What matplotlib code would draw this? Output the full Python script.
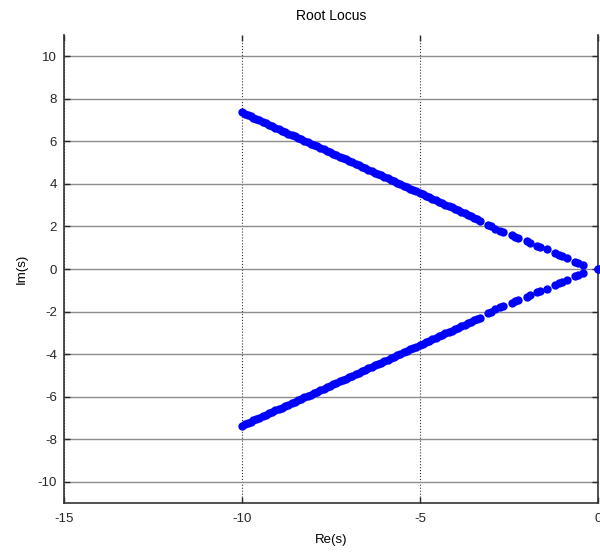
import matplotlib
matplotlib.use("Agg")
import matplotlib.pyplot as plt

# closed-loop pole positions, upper branch (the lower branch is its conjugate)
re_upper = [-10.00, -9.92, -9.84, -9.76, -9.68, -9.60, -9.51, -9.42, -9.33, -9.24,
            -9.15, -9.06, -8.97, -8.88, -8.79, -8.70, -8.61, -8.52, -8.43, -8.34,
            -8.25, -8.16, -8.07, -7.98, -7.89, -7.80, -7.71, -7.62, -7.53, -7.44,
            -7.35, -7.26, -7.17, -7.08, -6.99, -6.90, -6.81, -6.72, -6.63, -6.54,
            -6.45, -6.36, -6.27, -6.18, -6.09, -6.00, -5.91, -5.82, -5.73, -5.64,
            -5.55, -5.46, -5.37, -5.28, -5.19, -5.10, -5.01, -4.92, -4.83, -4.74,
            -4.65, -4.56, -4.47, -4.38, -4.29, -4.20, -4.11, -4.02, -3.93, -3.84,
            -3.75, -3.66, -3.57, -3.48, -3.39, -3.31,
            -3.08, -3.01, -2.89, -2.75, -2.66, -2.42, -2.33, -2.24, -2.00, -1.91,
            -1.72, -1.63, -1.44, -1.21, -1.11, -1.02, -0.88, -0.65, -0.55, -0.41,
            0.00]
im_upper = [7.36, 7.30, 7.24, 7.18, 7.12, 7.06, 6.99, 6.92, 6.85, 6.78,
            6.72, 6.65, 6.58, 6.51, 6.44, 6.37, 6.31, 6.24, 6.17, 6.10,
            6.03, 5.97, 5.90, 5.83, 5.76, 5.69, 5.62, 5.56, 5.49, 5.42,
            5.35, 5.28, 5.21, 5.15, 5.08, 5.01, 4.94, 4.87, 4.81, 4.74,
            4.67, 4.60, 4.53, 4.46, 4.40, 4.33, 4.26, 4.19, 4.12, 4.06,
            3.99, 3.92, 3.85, 3.78, 3.71, 3.65, 3.58, 3.51, 3.44, 3.37,
            3.31, 3.24, 3.17, 3.10, 3.03, 2.96, 2.90, 2.83, 2.76, 2.69,
            2.62, 2.55, 2.49, 2.42, 2.35, 2.28,
            2.06, 2.01, 1.90, 1.80, 1.72, 1.58, 1.50, 1.44, 1.31, 1.22,
            1.09, 1.02, 0.92, 0.75, 0.66, 0.59, 0.50, 0.34, 0.28, 0.18,
            0.00]

x_ticks = [-15, -10, -5, 0]
y_ticks = [-10, -8, -6, -4, -2, 0, 2, 4, 6, 8, 10]

plt.rcParams['font.family'] = ['Liberation Sans', 'DejaVu Sans']
plt.rcParams['axes.unicode_minus'] = False

fig = plt.figure(figsize=(6, 5.56), dpi=100)
ax = fig.add_axes([0.1067, 0.0953, 0.89, 0.8417])

im_lower = [-v for v in im_upper]
for im_vals in (im_upper, im_lower):
    ax.plot(re_upper, im_vals, linestyle='none', marker='o', markersize=6,
            markeredgewidth=0, color=(0, 0, 1), clip_on=False, zorder=3)

ax.set_xlim(-15, 0)
ax.set_ylim(-11, 11)
ax.set_xticks(x_ticks)
ax.set_yticks(y_ticks)

# grid: dotted verticals, light solid horizontals
ax.xaxis.grid(True, color='0.2', linestyle=':', linewidth=0.8)
ax.yaxis.grid(True, color='0.55', linestyle='-', linewidth=1.0)
ax.set_axisbelow(True)

ax.spines['top'].set_visible(False)
for side in ['left', 'bottom', 'right']:
    ax.spines[side].set_color('0.2')
    ax.spines[side].set_linewidth(1.2)

ax.tick_params(direction='in', length=4, width=1, colors='0.15',
               top=True, right=True, labelsize=9.5)
ax.tick_params(axis='x', pad=7)
ax.tick_params(axis='y', pad=5)

ax.set_title('Root Locus', fontsize=10, pad=11)
ax.set_xlabel('Re(s)', fontsize=9.5, labelpad=7)
ax.set_ylabel('Im(s)', fontsize=9.5, labelpad=7)

fig.savefig('out.png', dpi=100)
